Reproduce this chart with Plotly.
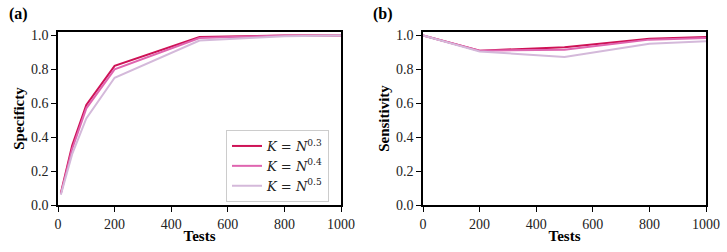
import plotly.graph_objects as go

# Data
series_names = ["<i>K</i> = <i>N</i><sup>0.3</sup>",
                "<i>K</i> = <i>N</i><sup>0.4</sup>",
                "<i>K</i> = <i>N</i><sup>0.5</sup>"]
colors = ["#ce1256", "#df65b0", "#d4b9da"]

tests_a = [10, 50, 100, 200, 500, 800, 1000]
spec_k03 = [0.07, 0.35, 0.59, 0.82, 0.99, 1.0, 1.0]
spec_k04 = [0.065, 0.33, 0.57, 0.80, 0.985, 1.0, 1.0]
spec_k05 = [0.06, 0.30, 0.51, 0.75, 0.97, 0.995, 1.0]

tests_b = [0, 200, 500, 800, 1000]
sens_k03 = [1.0, 0.91, 0.93, 0.98, 0.99]
sens_k04 = [1.0, 0.91, 0.915, 0.975, 0.985]
sens_k05 = [1.0, 0.905, 0.873, 0.95, 0.965]

x_ticks = [0, 200, 400, 600, 800, 1000]
y_ticks = [0.0, 0.2, 0.4, 0.6, 0.8, 1.0]

FONT = "Liberation Serif"

fig = go.Figure()
spec = [spec_k03, spec_k04, spec_k05]
sens = [sens_k03, sens_k04, sens_k05]
for i in range(3):
    fig.add_trace(go.Scatter(x=tests_a, y=spec[i], mode="lines", name=series_names[i],
                             line=dict(color=colors[i], width=2), xaxis="x", yaxis="y",
                             showlegend=True))
for i in range(3):
    fig.add_trace(go.Scatter(x=tests_b, y=sens[i], mode="lines", name=series_names[i],
                             line=dict(color=colors[i], width=2), xaxis="x2", yaxis="y2",
                             showlegend=False))

ydom = [(252 - 205) / 252, (252 - 32) / 252]
axis_common = dict(showline=True, linecolor="black", linewidth=1.5, mirror=True,
                   ticks="outside", ticklen=5, tickwidth=1.2, tickcolor="black",
                   showgrid=False, zeroline=False, automargin=False,
                   tickfont=dict(family=FONT, size=14, color="#222"))

fig.update_layout(
    width=727, height=252,
    margin=dict(l=0, r=0, t=0, b=0),
    paper_bgcolor="white", plot_bgcolor="white",
    font=dict(family=FONT, color="black"),
    xaxis=dict(domain=[58 / 727, 341 / 727], range=[0, 1000], tickvals=x_ticks,
               title=dict(text="<b>Tests</b>", font=dict(size=15), standoff=0),
               anchor="y", **axis_common),
    yaxis=dict(domain=ydom, range=[0, 1.02], tickvals=y_ticks, tickformat=".1f",
               title=dict(text="<b>Specificty</b>", font=dict(size=15), standoff=3),
               anchor="x", **axis_common),
    xaxis2=dict(domain=[423 / 727, 706 / 727], range=[0, 1000], tickvals=x_ticks,
                title=dict(text="<b>Tests</b>", font=dict(size=15), standoff=0),
                anchor="y2", **axis_common),
    yaxis2=dict(domain=ydom, range=[0, 1.02], tickvals=y_ticks, tickformat=".1f",
                title=dict(text="<b>Sensitivity</b>", font=dict(size=15), standoff=3),
                anchor="x2", **axis_common),
    legend=dict(x=226 / 727, y=(252 - 166) / 252, xanchor="left", yanchor="middle",
                bgcolor="rgba(255,255,255,0.9)", bordercolor="#cccccc", borderwidth=1,
                font=dict(family="DejaVu Serif", size=13, color="#222"),
                itemwidth=30, tracegroupgap=0),
    annotations=[
        dict(text="<b>(a)</b>", x=7 / 727, y=1 - 14 / 252, xref="paper", yref="paper",
             xanchor="left", yanchor="middle", showarrow=False, font=dict(size=16, family=FONT)),
        dict(text="<b>(b)</b>", x=371 / 727, y=1 - 14 / 252, xref="paper", yref="paper",
             xanchor="left", yanchor="middle", showarrow=False, font=dict(size=16, family=FONT)),
    ],
)

fig.write_html("out.html", config={"displayModeBar": False},
               post_script="document.body.style.margin='0';document.body.style.overflow='hidden';")
